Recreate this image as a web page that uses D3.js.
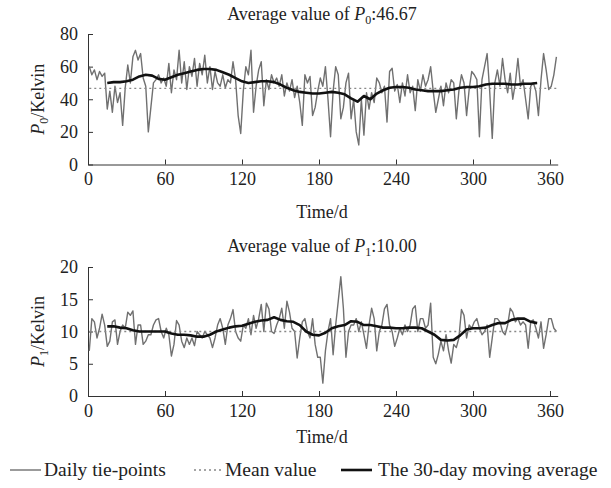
<!DOCTYPE html>
<html>
<head>
<meta charset="utf-8">
<script src="https://cdn.jsdelivr.net/npm/d3@7"></script>
<style>
  body { margin: 0; background: #fff; }
  text { font-family: "Liberation Serif", "Times New Roman", serif; fill: #222; }
  .axis path, .axis line { stroke: #333; }
</style>
</head>
<body>
<svg id="chart" width="611" height="488"></svg>
<script>
// Daily tie-points, one value every second day (day 1, 3, 5 ... 365)
const p0Daily = [
  60, 55, 58, 52, 57, 54, 56, 34, 45, 32,
  48, 38, 44, 24, 47, 61, 50, 66, 70, 64,
  68, 53, 48, 20, 35, 50, 52, 55, 50, 53,
  48, 62, 44, 58, 52, 70, 50, 63, 46, 60,
  54, 65, 48, 62, 55, 67, 50, 60, 46, 57,
  50, 48, 55, 47, 52, 50, 63, 52, 30, 19,
  45, 60, 55, 70, 32, 48, 58, 63, 36, 52,
  46, 55, 50, 53, 48, 55, 42, 50, 45, 52,
  41, 48, 38, 24, 55, 50, 54, 30, 35, 45,
  53, 48, 60, 40, 17, 45, 60, 55, 28, 35,
  50, 56, 28, 40, 20, 12, 40, 18, 44, 34,
  44, 38, 53, 50, 44, 48, 26, 57, 59, 45,
  49, 38, 50, 42, 55, 44, 48, 33, 52, 45,
  55, 48, 52, 60, 45, 32, 40, 48, 36, 50,
  44, 52, 50, 28, 45, 55, 50, 30, 46, 57,
  55, 52, 17, 52, 60, 68, 45, 16, 50, 58,
  48, 65, 52, 44, 56, 40, 50, 65, 48, 52,
  40, 28, 48, 50, 45, 30, 52, 68, 58, 46,
  48, 55, 66
];

const p1Daily = [
  7, 12, 11.5, 9, 10.5, 12.7, 11, 7.7, 8.5, 11.5,
  11.8, 8, 10, 11, 10.5, 13, 12.5, 13.2, 8, 11,
  11, 8, 8.5, 9.5, 9.5, 11, 11.8, 12, 10, 9,
  10.5, 9.5, 6.2, 8, 11.7, 11, 8.5, 7.5, 9, 8,
  9, 7.8, 10, 9.5, 9, 10, 9.5, 9, 7.5, 9,
  11, 12, 10.5, 8, 11, 12, 13.4, 10, 9, 8.5,
  11, 10.5, 12, 9.5, 12.5, 10.5, 12, 14.2, 10, 14.4,
  13.5, 10, 9.7, 11, 12, 13.6, 10.5, 14.7, 13, 10.5,
  10, 5.9, 9, 11.5, 12, 10, 9, 12, 8, 6,
  6, 2, 7, 10, 12, 6.4, 11, 14.7, 18.5, 13.6,
  6, 10, 11, 11, 12, 10, 11.5, 9.5, 7.4, 11,
  13.6, 12, 7, 10, 11, 13.5, 14.2, 11, 10, 7.7,
  9, 10.5, 9.5, 11, 10, 11, 13.5, 14, 10, 12,
  12, 10.5, 11, 14.4, 6, 5, 6.5, 8.5, 7, 9.5,
  7, 5.1, 8, 7.5, 9, 13.4, 12.5, 9, 11, 10.5,
  11.5, 12, 10.5, 9.5, 10, 11, 6, 9, 12, 12,
  11.5, 10, 9.5, 11, 13.6, 13, 11.5, 12, 11, 11.5,
  11, 7.4, 11.5, 11.8, 10.5, 9, 11.5, 7.4, 9.5, 12,
  12, 10.5, 10
];

// 30-day moving average, read every 5 days from day 15 to day 350
const p0Moving = [
  50, 50.5, 50.5, 51, 52, 54, 55, 54.5, 52.5, 52,
  53.5, 55, 56, 57, 58, 58.5, 58.5, 58, 56.5, 55,
  53, 51, 50, 50.5, 51, 51, 50.5, 49, 47, 45.5,
  44.5, 44, 43.5, 43.5, 44, 44.5, 44, 43, 40.5, 38.5,
  42, 40, 43.5, 45.5, 47, 47.5, 47.5, 47, 46, 45.5,
  45, 45, 45, 45.5, 46, 47, 47.5, 47.5, 48, 49,
  49.5, 49.5, 49.5, 49, 49, 49.5, 49.5, 50
];

const p1Moving = [
  10.8, 10.8, 10.6, 10.5, 10.2, 10, 10, 10, 10, 10,
  9.7, 9.5, 9.5, 9.4, 9.2, 9.2, 9.5, 10, 10.3, 10.6,
  10.8, 10.9, 11.2, 11.5, 11.7, 11.8, 12.2, 11.8, 11.6, 11.5,
  11, 10, 9.5, 9.4, 9.8, 10.5, 10.8, 11, 11.6, 11.5,
  11, 11, 10.8, 10.6, 10.6, 10.5, 10.5, 10.6, 10.6, 10.5,
  10, 9.5, 8.7, 8.6, 8.7, 9.4, 10.3, 10.5, 10.5, 10.6,
  11, 11.3, 11.3, 11.8, 12, 12, 11.5, 11.3
];

const p0Mean = 46.67;
const p1Mean = 10.00;

const dailyDays = d3.range(1, 366, 2);
const movingDays = d3.range(15, 351, 5);
const xTicks = [0, 60, 120, 180, 240, 300, 360];
const p0Ticks = [0, 20, 40, 60, 80];
const p1Ticks = [0, 5, 10, 15, 20];

const svg = d3.select('#chart');

// Shared time scale
const xScale = d3.scaleLinear()
  .domain([0, 366])
  .range([88, 88 + 366 * 77 / 60]);

function drawPanel(opts) {
  const yScale = d3.scaleLinear()
    .domain(opts.domain)
    .range([opts.bottom, opts.top]);

  const g = svg.append('g');

  // Axes, ticks pointing inward
  g.append('g')
    .attr('class', 'axis')
    .attr('transform', `translate(0, ${opts.bottom})`)
    .call(d3.axisBottom(xScale).tickValues(xTicks).tickSizeInner(-5).tickSizeOuter(0).tickPadding(8))
    .call(a => a.selectAll('text').style('font-size', '18px'));

  g.append('g')
    .attr('class', 'axis')
    .attr('transform', `translate(${xScale(0)}, 0)`)
    .call(d3.axisLeft(yScale).tickValues(opts.ticks).tickSizeInner(-5).tickSizeOuter(0).tickPadding(10))
    .call(a => a.selectAll('text').style('font-size', '18px'));

  // Daily tie-points
  const line = d3.line()
    .x(d => xScale(d[0]))
    .y(d => yScale(d[1]));

  g.append('path')
    .datum(opts.daily.map((v, i) => [dailyDays[i], v]))
    .attr('d', line)
    .attr('fill', 'none')
    .attr('stroke', '#707070')
    .attr('stroke-width', 1.4)
    .attr('stroke-linejoin', 'round');

  // Mean value
  g.append('line')
    .attr('x1', xScale(1))
    .attr('x2', xScale(365))
    .attr('y1', yScale(opts.mean))
    .attr('y2', yScale(opts.mean))
    .attr('stroke', '#888')
    .attr('stroke-width', 1.3)
    .attr('stroke-dasharray', '2,3');

  // 30-day moving average
  g.append('path')
    .datum(opts.moving.map((v, i) => [movingDays[i], v]))
    .attr('d', line)
    .attr('fill', 'none')
    .attr('stroke', '#111')
    .attr('stroke-width', 2.6)
    .attr('stroke-linejoin', 'round');

  // Title
  const title = g.append('text')
    .attr('x', 322)
    .attr('y', opts.titleY)
    .attr('text-anchor', 'middle')
    .style('font-size', '18px');
  title.append('tspan').text('Average value of ');
  title.append('tspan').style('font-style', 'italic').text('P');
  title.append('tspan').attr('dy', 4).style('font-size', '12px').text(opts.sub);
  title.append('tspan').attr('dy', -4).text(':' + opts.mean.toFixed(2));

  // Y label
  const ylab = g.append('text')
    .attr('transform', `translate(44, ${(opts.top + opts.bottom) / 2}) rotate(-90)`)
    .attr('text-anchor', 'middle')
    .style('font-size', '18px');
  ylab.append('tspan').style('font-style', 'italic').text('P');
  ylab.append('tspan').attr('dy', 4).style('font-size', '12px').text(opts.sub);
  ylab.append('tspan').attr('dy', -4).text('/Kelvin');

  // X label
  g.append('text')
    .attr('x', 322)
    .attr('y', opts.xLabelY)
    .attr('text-anchor', 'middle')
    .style('font-size', '18px')
    .text('Time/d');
}

drawPanel({ daily: p0Daily, moving: p0Moving, mean: p0Mean, sub: '0',
  domain: [0, 80], ticks: p0Ticks, top: 34, bottom: 164.5, titleY: 20, xLabelY: 218 });
drawPanel({ daily: p1Daily, moving: p1Moving, mean: p1Mean, sub: '1',
  domain: [0, 20], ticks: p1Ticks, top: 267, bottom: 396, titleY: 252, xLabelY: 443 });

// Legend
const legend = svg.append('g').attr('transform', 'translate(0, 470)');
legend.append('line').attr('x1', 10).attr('x2', 41)
  .attr('stroke', '#707070').attr('stroke-width', 1.4);
legend.append('text').attr('x', 44).attr('y', 6).style('font-size', '19.5px').text('Daily tie-points');
legend.append('line').attr('x1', 194).attr('x2', 221)
  .attr('stroke', '#888').attr('stroke-width', 1.3).attr('stroke-dasharray', '2,3');
legend.append('text').attr('x', 225).attr('y', 6).style('font-size', '19.5px').text('Mean value');
legend.append('line').attr('x1', 341).attr('x2', 372)
  .attr('stroke', '#111').attr('stroke-width', 2.6);
legend.append('text').attr('x', 378).attr('y', 6).style('font-size', '19.5px').text('The 30-day moving average');
</script>
</body>
</html>
